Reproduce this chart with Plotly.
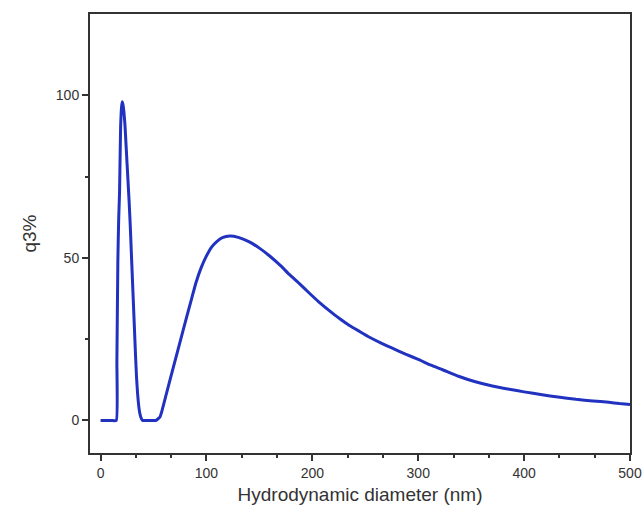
import plotly.graph_objects as go

diameter_nm = [0, 5, 10, 14.8, 15.4, 16.3, 17.1, 17.9, 18.9, 19.7, 20.4, 21.2, 22, 23, 24, 25, 26, 27,
               28, 29, 30, 31, 32, 33, 34, 35, 36, 37, 38, 39.6, 45, 52, 56, 58, 62, 68, 74.5, 81,
               86, 90, 95, 100, 105, 110, 115, 122, 130, 140, 150, 160, 170, 178, 188, 197, 206, 216,
               225, 235, 245, 254, 265, 275, 288, 300, 312, 323, 338, 354, 370, 386, 400, 417, 432,
               449, 465, 480, 490, 500]
q3_percent = [0, 0, 0, 0, 18, 49, 62, 70, 90, 96, 98, 97, 95, 91, 85, 79, 73, 67,
              60, 52, 44, 36, 28, 20, 13, 8, 4.5, 2.3, 1, 0, 0, 0, 1, 3, 8.0, 15.5, 23.5, 31.5,
              37.5, 42.3, 47, 50.6, 53.4, 55.1, 56.2, 56.7, 56.3, 55, 53.0, 50.5, 47.6, 45.0, 42.0, 39.2, 36.5, 33.8,
              31.5, 29.2, 27.3, 25.6, 23.8, 22.3, 20.4, 18.8, 17.0, 15.6, 13.6, 11.9, 10.6, 9.6, 8.8, 7.9, 7.2,
              6.5, 6.0, 5.6, 5.2, 4.9]

x_ticks = [0, 100, 200, 300, 400, 500]
y_ticks = [0, 50, 100]
x_minor = [t + d for t in x_ticks[:-1] for d in (100 / 3, 200 / 3)]
y_minor = [25, 75]

x_range = [-10, 500]
y_range = [-10, 125]

fig = go.Figure()
# invisible copy on the overlay axes so that the minor-tick axes get drawn
fig.add_trace(go.Scatter(x=diameter_nm, y=q3_percent, mode="lines", xaxis="x2", yaxis="y2",
                         line=dict(color="rgba(0,0,0,0)", width=0), hoverinfo="skip",
                         showlegend=False))
fig.add_trace(go.Scatter(x=diameter_nm, y=q3_percent, mode="lines",
                         line=dict(color="#2232c0", width=3, shape="spline", smoothing=0.4),
                         showlegend=False))

font = "Liberation Sans, Arial"
axis_common = dict(showline=True, linecolor="#333333", linewidth=2, mirror=True,
                   ticks="outside", ticklen=6, tickwidth=1.5, tickcolor="#333333",
                   showgrid=False, zeroline=False, automargin=False,
                   tickfont=dict(family=font, size=14, color="#333333"))
minor_common = dict(ticks="outside", ticklen=4, tickwidth=1.5, tickcolor="#333333",
                    showticklabels=False, showgrid=False, zeroline=False, showline=False,
                    automargin=False)

fig.update_layout(
    width=643, height=513,
    margin=dict(l=90, r=13, t=14, b=60),
    paper_bgcolor="white", plot_bgcolor="white",
    xaxis=dict(range=x_range, tickvals=x_ticks,
               title=dict(text="Hydrodynamic diameter (nm)", standoff=8,
                          font=dict(family=font, size=19, color="#333333")),
               **axis_common),
    yaxis=dict(range=y_range, tickvals=y_ticks,
               title=dict(text="q3%", standoff=14,
                          font=dict(family=font, size=19, color="#333333")),
               **axis_common),
    xaxis2=dict(range=x_range, tickvals=x_minor, overlaying="x", side="bottom",
                anchor="y2", **minor_common),
    yaxis2=dict(range=y_range, tickvals=y_minor, overlaying="y", side="left",
                anchor="x2", **minor_common),
)

fig.write_html("out.html")
